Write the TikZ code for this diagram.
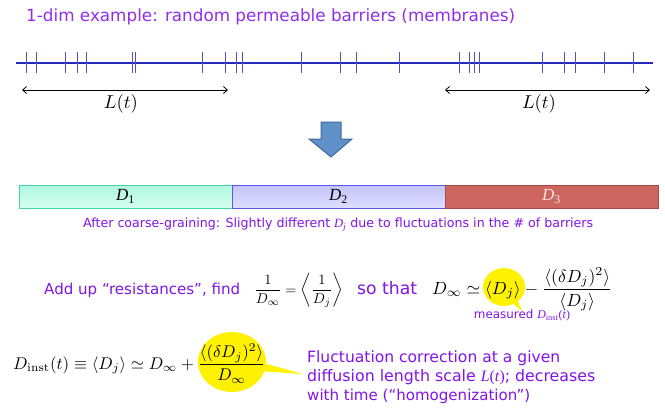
\documentclass[tikz,border=0pt]{standalone}
\usepackage{fontspec}
\newfontfamily\comic{DejaVu Sans}
\newfontfamily\timesf{Liberation Serif}
\usetikzlibrary{arrows.meta,shapes.callouts}
\definecolor{purp}{RGB}{130,20,230}
\definecolor{titlecol}{RGB}{145,45,235}
\definecolor{barblue}{RGB}{40,40,185}
\definecolor{tickblue}{RGB}{80,80,195}
\definecolor{arrowfill}{RGB}{95,145,200}
\definecolor{arrowline}{RGB}{65,105,160}
\definecolor{yel}{RGB}{255,242,0}
\begin{document}
\begin{tikzpicture}[x=1pt,y=-1pt,inner sep=0pt,
  barline/.style={draw=barblue,line width=2pt},
  tickmark/.style={draw=tickblue,line width=1pt},
  dimarrow/.style={draw=black,line width=0.8pt,{Straight Barb[length=4pt,width=7pt]}-{Straight Barb[length=4pt,width=7pt]}},
  barbox/.style={rectangle,line width=1pt,minimum height=23pt,minimum width=213pt},
  ptext/.style={text=purp},
  bubble/.style={ellipse callout,fill=yel,draw=none}]
\useasboundingbox (0,0) rectangle (665,408);
% title
\node[anchor=west,text=titlecol] (title) at (26,17) {\resizebox{489pt}{!}{\comic 1-dim example: random permeable barriers (membranes)}};
% barrier line
\draw[barline] (16,62.5) -- (653,62.5);
\foreach \x in {26.7,36,65.7,77.7,86,132.7,135.7,202.7,225.7,236,242.3,301.7,340,356.7,399,459,469.3,474,479.7,542.7,564.3,575,604.3,633.3}
  \draw[tickmark] (\x,52) -- (\x,73);
% length arrows
\coordinate (la) at (22,90);
\coordinate (lb) at (228,90);
\coordinate (ra) at (445,90);
\coordinate (rb) at (650,90);
\draw[dimarrow] (la) -- (lb);
\draw[dimarrow] (ra) -- (rb);
\node (lt1) at (121,104) {\resizebox{34pt}{!}{$L(t)$}};
\node (lt2) at (539,104) {\resizebox{34pt}{!}{$L(t)$}};
% block arrow
\draw[fill=arrowfill,draw=arrowline,line width=1pt] (321,122) -- (341,122) -- (341,139) -- (352,139) -- (331,157) -- (309,139) -- (321,139) -- cycle;
% bars
\node[barbox,draw={rgb,255:red,70;green,210;blue,170},top color={rgb,255:red,175;green,247;blue,222},bottom color={rgb,255:red,212;green,255;blue,240}] (d1) at (125.5,196.5) {\fontsize{17}{20}\selectfont\timesf\textit{D}\textsubscript{1}};
\node[barbox,draw={rgb,255:red,90;green,90;blue,230},top color={rgb,255:red,195;green,195;blue,250},bottom color={rgb,255:red,222;green,222;blue,255}] (d2) at (338.5,196.5) {\fontsize{17}{20}\selectfont\timesf\textit{D}\textsubscript{2}};
\node[barbox,draw={rgb,255:red,170;green,75;blue,70},fill={rgb,255:red,205;green,102;blue,96},text={rgb,255:red,252;green,228;blue,228}] (d3) at (551.5,196.5) {\fontsize{17}{20}\selectfont\timesf\textit{D}\textsubscript{3}};
\node[ptext,anchor=west] (cap) at (83,225) {\resizebox{510pt}{!}{\comic After coarse-graining: Slightly different {\timesf\textit{D}\textsubscript{\textit{j}}} due to fluctuations in the \# of barriers}};
% callouts
\coordinate (p1) at (522,311);
\node[bubble,minimum width=42pt,minimum height=38pt,callout absolute pointer=(p1)] (c1) at (504,287) {};
\coordinate (p2) at (303,374);
\node[bubble,minimum width=68pt,minimum height=60pt,callout absolute pointer=(p2)] (c2) at (232,362) {};
% top formula line
\node[ptext,anchor=base west] (add) at (44,294) {\resizebox{196pt}{!}{\comic Add up “resistances”, find}};
\node[anchor=base west] (f1) at (254,294) {\resizebox{89pt}{!}{$\displaystyle\frac{1}{D_\infty}=\left\langle\frac{1}{D_j}\right\rangle$}};
\node[ptext,anchor=base west] (so) at (357,294) {\resizebox{60pt}{!}{\comic so that}};
\node[anchor=base west] (f2) at (432,294) {\resizebox{180pt}{!}{$\displaystyle D_\infty\simeq\langle D_j\rangle-\frac{\langle(\delta D_j)^2\rangle}{\langle D_j\rangle}$}};
\node[ptext] (meas) at (522,315) {\resizebox{96pt}{!}{{\comic measured} {\timesf\textit{D}\textsubscript{inst}(\textit{t})}}};
% bottom formula
\node[anchor=base west] (f3) at (13,369) {\resizebox{252pt}{!}{$\displaystyle D_{\mathrm{inst}}(t)\equiv\langle D_j\rangle\simeq D_\infty+\frac{\langle(\delta D_j)^2\rangle}{D_\infty}$}};
\node[ptext,anchor=base west] (fl1) at (307,362) {\resizebox{253pt}{!}{\comic Fluctuation correction at a given}};
\node[ptext,anchor=base west] (fl2) at (307,381) {\resizebox{288pt}{!}{\comic diffusion length scale {\timesf\textit{L}(\textit{t})}; decreases}};
\node[ptext,anchor=base west] (fl3) at (307,400) {\resizebox{223pt}{!}{\comic with time (“homogenization”)}};
\end{tikzpicture}
\end{document}
